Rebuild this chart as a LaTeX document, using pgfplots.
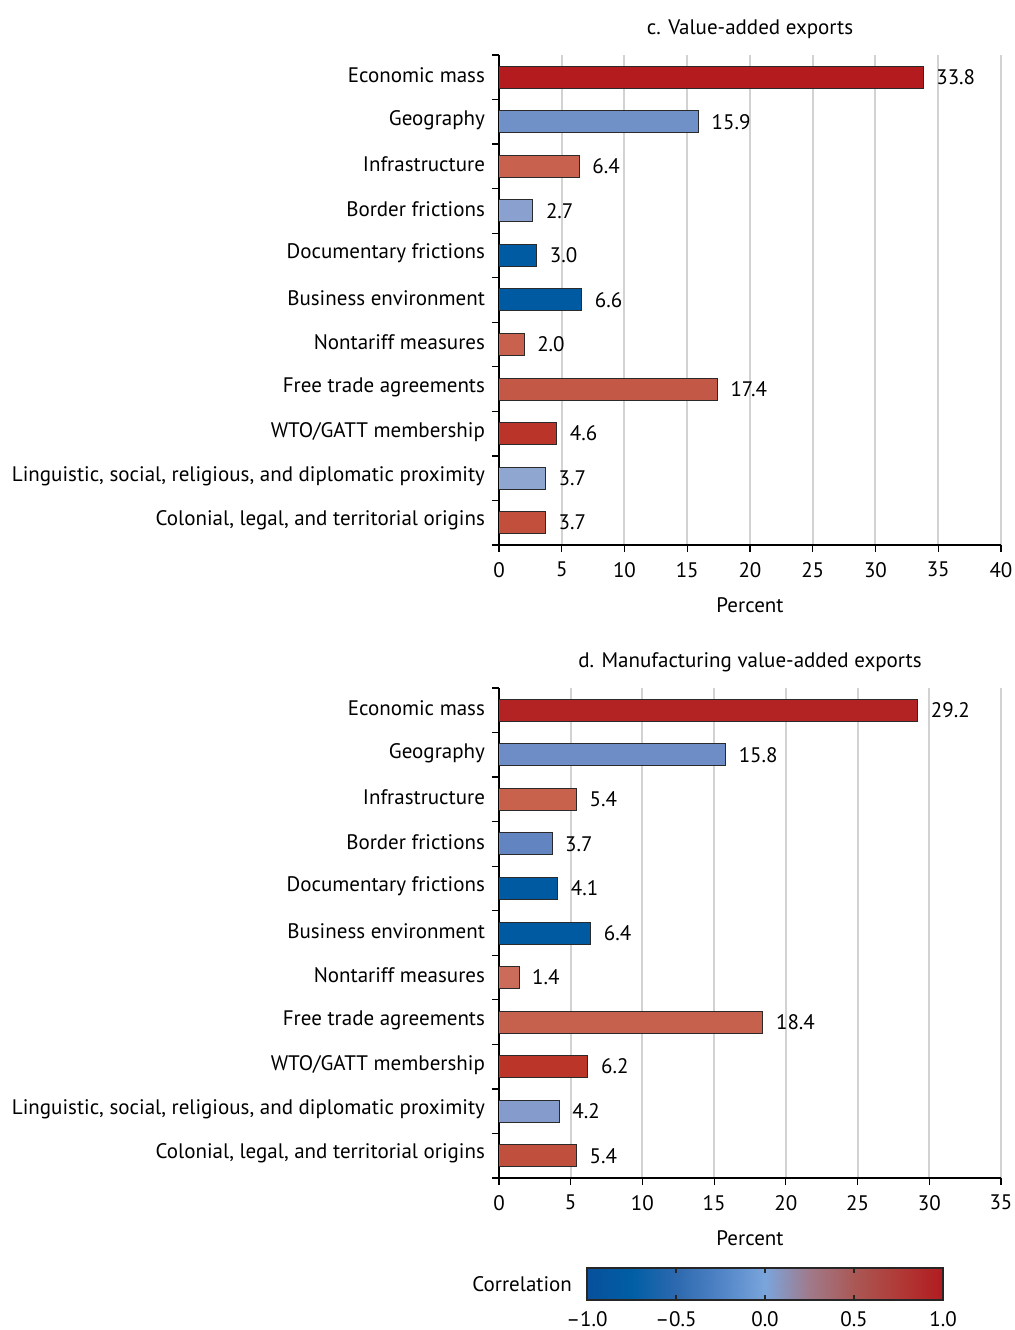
\documentclass[border=0pt]{standalone}
\usepackage{fontspec}
\setmainfont{PT Sans}
\usepackage{pgfplots}
\pgfplotsset{compat=1.18}

% bar fills, panel c
\definecolor{cA}{HTML}{B31B1F}
\definecolor{cB}{HTML}{7090C8}
\definecolor{cC}{HTML}{C8624F}
\definecolor{cD}{HTML}{8AA1D0}
\definecolor{cE}{HTML}{005BA3}
\definecolor{cF}{HTML}{005AA2}
\definecolor{cG}{HTML}{C8624F}
\definecolor{cH}{HTML}{C45847}
\definecolor{cI}{HTML}{BB3429}
\definecolor{cJ}{HTML}{8FA6D1}
\definecolor{cK}{HTML}{C24E3C}
% bar fills, panel d
\definecolor{dA}{HTML}{B32323}
\definecolor{dB}{HTML}{6E8CC6}
\definecolor{dC}{HTML}{C8624D}
\definecolor{dD}{HTML}{6285C1}
\definecolor{dE}{HTML}{005AA2}
\definecolor{dF}{HTML}{005AA2}
\definecolor{dG}{HTML}{CB6C5A}
\definecolor{dH}{HTML}{C5614D}
\definecolor{dI}{HTML}{BC3529}
\definecolor{dJ}{HTML}{859BCB}
\definecolor{dK}{HTML}{C04F3D}
\definecolor{gridgray}{HTML}{D2D2D2}
\definecolor{barline}{HTML}{2A2A2A}

\newcommand{\lblfont}{\fontsize{10.5}{12.5}\selectfont}

\pgfplotsset{
  /pgf/number format/assume math mode=true,
  colormap={corr}{
    rgb255=(8,80,155) rgb255=(0,94,165) rgb255=(45,105,175)
    rgb255=(80,132,198) rgb255=(122,165,220) rgb255=(160,122,138)
    rgb255=(170,88,85) rgb255=(176,58,55) rgb255=(178,28,32)},
  panel/.style={
    scale only axis, width=251pt, height=245pt,
    anchor=south west,
    xbar, bar width=11pt, bar shift=0pt,
    xmin=0, ymin=-0.5, ymax=10.5, y dir=reverse,
    axis x line*=bottom, axis y line*=left,
    axis line style={black, line width=0.6pt},
    tick align=outside, major tick length=3.5pt,
    tick style={black, line width=0.6pt},
    xmajorgrids, grid style={gridgray, line width=1pt},
    ytick={-0.5,0.5,...,10.5}, yticklabels={},
    extra y ticks={0,1,2,3,4,5,6,7,8,9,10},
    extra y tick labels={Economic mass, Geography, Infrastructure,
      Border frictions, Documentary frictions, Business environment,
      Nontariff measures, Free trade agreements, WTO/GATT membership,
      {Linguistic, social, religious, and diplomatic proximity},
      {Colonial, legal, and territorial origins}},
    extra y tick style={major tick length=0pt,
      yticklabel style={xshift=-3.5pt, yshift=1pt}},
    xticklabel style={yshift=-1.5pt},
    tick label style={font=\lblfont},
    label style={font=\lblfont},
    title style={font=\lblfont, at={(0.5,1)}, anchor=center, yshift=7pt},
    xlabel={Percent},
    xlabel style={at={(axis description cs:0.5,0)}, anchor=center, yshift=-30pt},
    nodes near coords={\pgfmathprintnumber[fixed,fixed zerofill,precision=1]{\pgfplotspointmeta}},
    nodes near coords style={font=\lblfont, anchor=west, xshift=3pt},
    every axis plot/.append style={draw=barline, line width=0.5pt},
  }
}

\begin{document}
\begin{tikzpicture}
\useasboundingbox (0,0) rectangle (507.5pt,665pt);

% c. Value-added exports
\begin{axis}[panel, at={(249.5pt,392.5pt)}, xmax=40,
  xtick={0,5,...,40}, title={c. Value-added exports}]
  \addplot[fill=cA] coordinates {(33.8,0)};
  \addplot[fill=cB] coordinates {(15.9,1)};
  \addplot[fill=cC] coordinates {(6.4,2)};
  \addplot[fill=cD] coordinates {(2.7,3)};
  \addplot[fill=cE] coordinates {(3.0,4)};
  \addplot[fill=cF] coordinates {(6.6,5)};
  \addplot[fill=cG] coordinates {(2.0,6)};
  \addplot[fill=cH] coordinates {(17.4,7)};
  \addplot[fill=cI] coordinates {(4.6,8)};
  \addplot[fill=cJ] coordinates {(3.7,9)};
  \addplot[fill=cK] coordinates {(3.7,10)};
\end{axis}

% d. Manufacturing value-added exports
\begin{axis}[panel, at={(249.5pt,76pt)}, xmax=35,
  xtick={0,5,...,35}, title={d. Manufacturing value-added exports}]
  \addplot[fill=dA] coordinates {(29.2,0)};
  \addplot[fill=dB] coordinates {(15.8,1)};
  \addplot[fill=dC] coordinates {(5.4,2)};
  \addplot[fill=dD] coordinates {(3.7,3)};
  \addplot[fill=dE] coordinates {(4.1,4)};
  \addplot[fill=dF] coordinates {(6.4,5)};
  \addplot[fill=dG] coordinates {(1.4,6)};
  \addplot[fill=dH] coordinates {(18.4,7)};
  \addplot[fill=dI] coordinates {(6.2,8)};
  \addplot[fill=dJ] coordinates {(4.2,9)};
  \addplot[fill=dK] coordinates {(5.4,10)};
\end{axis}

% correlation scale
\begin{axis}[at={(293.5pt,15pt)}, anchor=south west, scale only axis,
  width=178pt, height=16pt, xmin=-1, xmax=1, ymin=0, ymax=1,
  ytick=\empty, xtick={-1,-0.5,0,0.5,1},
  xticklabels={–1.0,–0.5,0.0,0.5,1.0},
  tick align=inside, xtick pos=both, xticklabel pos=bottom,
  xticklabel style={yshift=-2pt},
  major tick length=2.5pt, tick style={black!85, line width=0.6pt},
  axis line style={black!85, line width=0.6pt},
  tick label style={font=\lblfont}, clip=false,
  axis on top, colormap name=corr, point meta min=-1, point meta max=1]
  \addplot[surf, shader=interp, mesh/rows=2, point meta=x]
    coordinates {(-1,0) (1,0) (-1,1) (1,1)};
  \node[anchor=east, font=\lblfont] at (axis description cs:0,0.5) [xshift=-4pt] {Correlation};
\end{axis}
\end{tikzpicture}
\end{document}
